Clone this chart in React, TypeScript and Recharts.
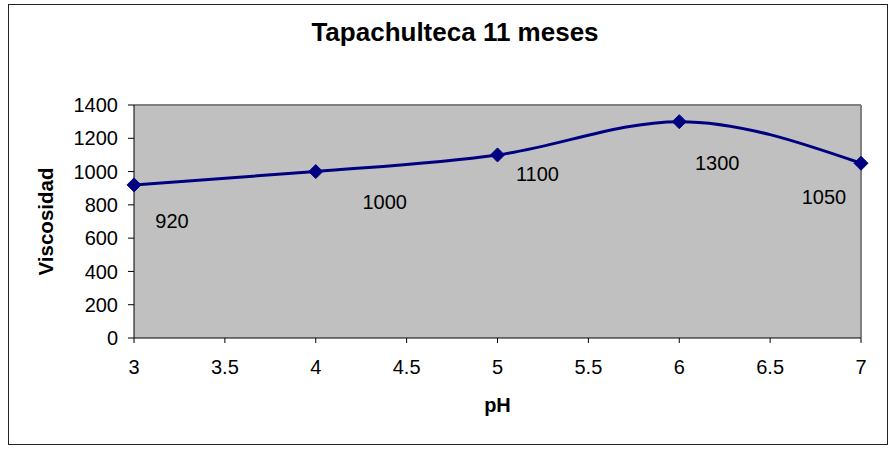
import React from "react";
import {
  LineChart,
  Line,
  XAxis,
  YAxis,
  CartesianGrid,
  ReferenceLine,
  LabelList,
} from "recharts";

const phValues = [3, 4, 5, 6, 7];
const viscosity = [920, 1000, 1100, 1300, 1050];
const xTicks = [3, 3.5, 4, 4.5, 5, 5.5, 6, 6.5, 7];
const yTicks = [0, 200, 400, 600, 800, 1000, 1200, 1400];

// label nudges (Excel labels were dragged around by hand)
const labelOffsets = [
  [38, 36],
  [69, 30],
  [40, 19],
  [38, 41],
  [-37, 34],
];

const data = phValues.map((ph, i) => ({ ph, v: viscosity[i] }));

const FONT = "'Liberation Sans', Arial, sans-serif";
const NAVY = "#000080";

const Diamond = (props: any) => {
  const { cx, cy } = props;
  if (cx == null || cy == null) return null;
  const r = 7;
  return (
    <polygon
      points={`${cx},${cy - r} ${cx + r},${cy} ${cx},${cy + r} ${cx - r},${cy}`}
      fill={NAVY}
      stroke={NAVY}
    />
  );
};

const PointLabel = (props: any) => {
  const { x, y, value, index } = props;
  const [dx, dy] = labelOffsets[index] ?? [0, 0];
  return (
    <text
      x={x + dx}
      y={y + dy}
      textAnchor="middle"
      dominantBaseline="central"
      fontSize={20}
      fontFamily={FONT}
      fill="#000"
    >
      {value}
    </text>
  );
};

export default function App() {
  return (
    <div
      style={{
        position: "fixed",
        left: 0,
        top: 0,
        width: 890,
        height: 449,
        background: "#fff",
        fontFamily: FONT,
      }}
    >
      <div
        style={{
          position: "absolute",
          left: 8,
          top: 4,
          width: 880,
          height: 441,
          border: "1px solid #222",
          boxSizing: "border-box",
        }}
      />
      <div
        style={{
          position: "absolute",
          left: 0,
          width: 910,
          top: 17,
          textAlign: "center",
          fontWeight: "bold",
          fontSize: 26,
          color: "#000",
        }}
      >
        Tapachulteca 11 meses
      </div>
      <div style={{ position: "absolute", left: 0, top: 0 }}>
        <LineChart
          width={890}
          height={449}
          data={data}
          margin={{ top: 105, right: 29, left: 0, bottom: 0 }}
        >
          <CartesianGrid
            fill="#C0C0C0"
            horizontal={false}
            vertical={false}
          />
          <XAxis
            dataKey="ph"
            type="number"
            domain={[3, 7]}
            ticks={xTicks}
            height={111}
            stroke="#000"
            tickSize={5}
            tickMargin={17}
            tick={{ fontSize: 20, fill: "#000", fontFamily: FONT }}
            label={{
              value: "pH",
              position: "insideTop",
              offset: 60,
              style: { fontSize: 20, fontWeight: "bold", fill: "#000", fontFamily: FONT },
            }}
          />
          <YAxis
            type="number"
            domain={[0, 1400]}
            ticks={yTicks}
            width={134}
            stroke="#000"
            tickSize={6}
            tickMargin={10}
            tick={{ fontSize: 20, fill: "#000", fontFamily: FONT }}
            label={{
              value: "Viscosidad",
              angle: -90,
              position: "insideLeft",
              offset: 46,
              style: {
                textAnchor: "middle",
                fontSize: 20.5,
                fontWeight: "bold",
                fill: "#000",
                fontFamily: FONT,
              },
            }}
          />
          <ReferenceLine y={1400} stroke="#808080" strokeWidth={2} />
          <ReferenceLine x={7} stroke="#808080" strokeWidth={2} />
          <Line
            type="monotone"
            dataKey="v"
            stroke={NAVY}
            strokeWidth={3}
            dot={<Diamond />}
            activeDot={false}
            isAnimationActive={false}
          >
            <LabelList dataKey="v" content={<PointLabel />} />
          </Line>
        </LineChart>
      </div>
    </div>
  );
}
